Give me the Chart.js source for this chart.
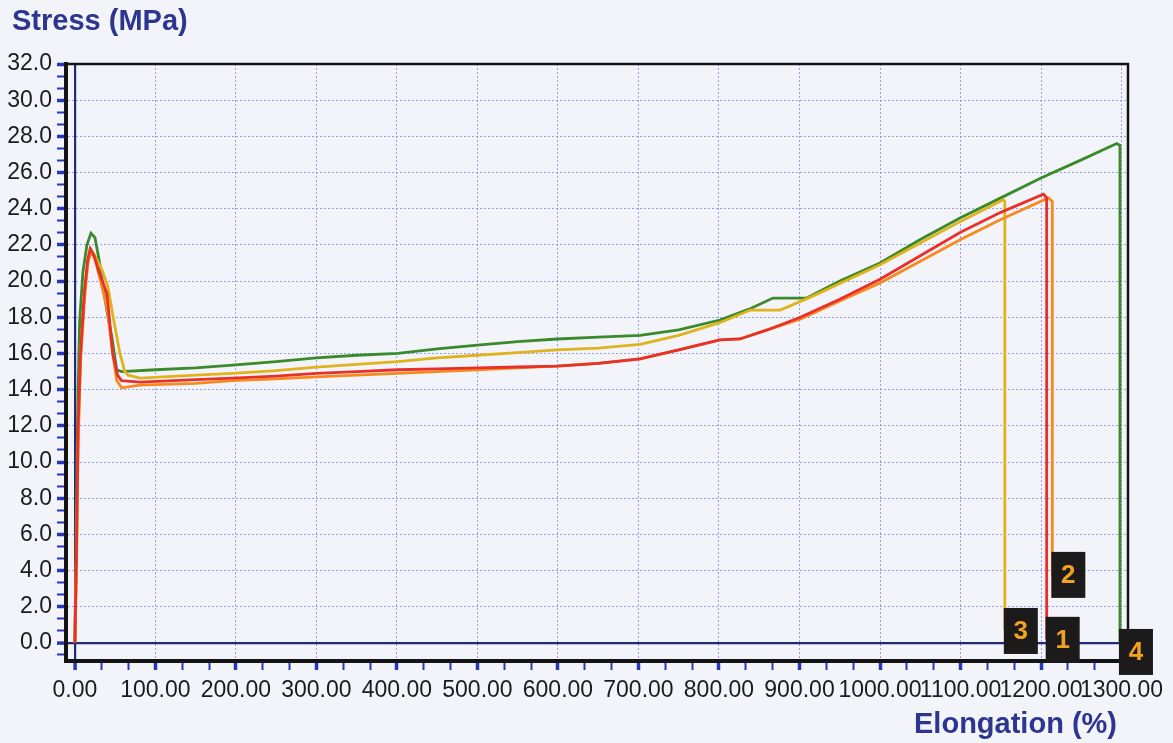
<!DOCTYPE html>
<html>
<head>
<meta charset="utf-8">
<script src="https://cdn.jsdelivr.net/npm/chart.js@4.4.1/dist/chart.umd.min.js"></script>
<style>
  html, body { margin: 0; padding: 0; background: #f3f4f9; }
  #wrap { width: 1173px; height: 743px; position: relative; }
</style>
</head>
<body>
<div id="wrap"><canvas id="c"></canvas></div>
<script>
// ---- Data (Elongation %, Stress MPa) ----
const sampleLabels = ['1', '2', '3', '4'];

const s1X = [0, 2, 4, 7, 12, 16, 19, 24, 30, 40, 47, 53, 58, 81, 150, 196, 250, 300, 350, 401, 450, 500, 550, 599, 650, 702, 750, 801, 826, 860, 901, 950, 1000, 1050, 1100, 1150, 1203, 1207, 1207];
const s1Y = [0, 5, 12, 16, 19.5, 21.2, 21.8, 21.4, 20.5, 19.3, 16.0, 14.8, 14.5, 14.42, 14.55, 14.64, 14.75, 14.9, 15.0, 15.1, 15.15, 15.2, 15.25, 15.3, 15.45, 15.7, 16.2, 16.75, 16.8, 17.3, 18.0, 19.0, 20.1, 21.4, 22.7, 23.8, 24.8, 24.6, 0.2];

const s2X = [0, 2, 4, 7, 12, 16, 20, 25, 32, 40, 47, 52, 58, 81, 150, 196, 250, 300, 350, 401, 450, 500, 550, 599, 650, 702, 750, 801, 826, 860, 901, 950, 1000, 1050, 1100, 1150, 1209, 1214, 1214];
const s2Y = [0, 4, 11, 15.5, 19, 21.0, 21.6, 21.2, 20.0, 18.5, 16.0, 14.5, 14.1, 14.25, 14.35, 14.5, 14.6, 14.7, 14.8, 14.9, 15.0, 15.1, 15.2, 15.3, 15.45, 15.7, 16.2, 16.75, 16.8, 17.3, 17.9, 18.9, 19.9, 21.1, 22.3, 23.4, 24.6, 24.4, 3.7];

const s3X = [0, 2, 4, 7, 12, 17, 21, 26, 33, 41, 48, 56, 62, 66, 81, 150, 196, 250, 300, 350, 401, 450, 500, 550, 599, 650, 702, 750, 801, 839, 876, 913, 1000, 1050, 1100, 1153, 1155, 1155];
const s3Y = [0, 5, 11, 16, 19.5, 21.2, 21.7, 21.3, 20.7, 19.7, 17.9, 16.0, 15.0, 14.8, 14.64, 14.8, 14.9, 15.05, 15.25, 15.4, 15.55, 15.75, 15.9, 16.05, 16.2, 16.3, 16.5, 17.0, 17.7, 18.4, 18.4, 19.1, 20.9, 22.1, 23.3, 24.5, 24.4, 0.7];

const s4X = [0, 2, 4, 6, 10, 15, 20, 25, 30, 35, 40, 46, 52, 58, 100, 150, 196, 250, 300, 350, 401, 450, 500, 550, 599, 650, 702, 750, 801, 840, 867, 909, 950, 1000, 1050, 1100, 1150, 1200, 1250, 1294, 1298, 1298];
const s4Y = [0, 8, 14, 17.8, 20.5, 22.0, 22.65, 22.4, 21.2, 19.7, 18.3, 16.9, 15.1, 15.0, 15.1, 15.2, 15.36, 15.55, 15.75, 15.9, 16.0, 16.25, 16.46, 16.65, 16.8, 16.9, 17.0, 17.3, 17.85, 18.5, 19.06, 19.06, 20.0, 21.0, 22.3, 23.5, 24.6, 25.7, 26.7, 27.6, 27.5, 0];

// Tick labels (major ticks)
const xMajorTicks = [0, 100, 200, 300, 400, 500, 600, 700, 800, 900, 1000, 1100, 1200, 1300];
const yMajorTicks = [0, 2, 4, 6, 8, 10, 12, 14, 16, 18, 20, 22, 24, 26, 28, 30, 32];

// Axis titles
const yTitle = 'Stress (MPa)';
const xTitle = 'Elongation (%)';

// Sample tag vertical position (MPa) for each sample number box
const tagY = [0.17, 3.76, 0.66, -0.5];

// ---- Build ticks with 3 subdivisions ----
function withMinor(major, extraBefore) {
  const out = [];
  const step = major[1] - major[0];
  if (extraBefore) out.push({ value: major[0] - step / 3, major: false });
  for (let i = 0; i < major.length; i++) {
    out.push({ value: major[i], major: true });
    if (i < major.length - 1) {
      out.push({ value: major[i] + step / 3, major: false });
      out.push({ value: major[i] + 2 * step / 3, major: false });
    }
  }
  return out;
}
const xTicks = withMinor(xMajorTicks, false);
const yTicks = withMinor(yMajorTicks, true);

function toPts(xs, ys) { return xs.map((x, i) => ({ x: x, y: ys[i] })); }

const colors = ['#e8302a', '#f68a1e', '#e0b21c', '#3a8a2c'];
const seriesX = [s1X, s2X, s3X, s4X];
const seriesY = [s1Y, s2Y, s3Y, s4Y];

const FONT = 'Liberation Sans, Arial, sans-serif';
const GRID_DOT = 'rgba(105,125,225,0.7)';
const ZERO_LINE = '#1f2a7a';
const TICK_BLUE = '#2536b8';
const TITLE_BLUE = '#2c3590';

function isMajorTick(ctx) { return ctx && ctx.tick && ctx.tick.major; }
function isZeroTick(ctx) { return ctx && ctx.tick && Math.abs(ctx.tick.value) < 1e-9; }

function gridOpts() {
  return {
    drawOnChartArea: true,
    drawTicks: true,
    tickLength: 9,
    color: (ctx) => {
      if (!ctx.tick) return 'rgba(0,0,0,0)';
      if (isZeroTick(ctx)) return ZERO_LINE;
      return ctx.tick.major ? GRID_DOT : 'rgba(0,0,0,0)';
    },
    lineWidth: (ctx) => (isZeroTick(ctx) ? 2.2 : 1),
    tickColor: TICK_BLUE,
    tickWidth: (ctx) => (isMajorTick(ctx) ? 3.5 : 2)
  };
}
function borderOpts() {
  return {
    display: true,
    color: '#141414',
    width: 4,
    dash: (ctx) => (ctx && ctx.tick && !isZeroTick(ctx) ? [2, 2] : [])
  };
}

const bgPlugin = {
  id: 'paper',
  beforeDraw(chart) {
    const { ctx, width, height } = chart;
    ctx.save();
    ctx.fillStyle = '#f3f4f9';
    ctx.fillRect(0, 0, width, height);
    ctx.restore();
  }
};

const framePlugin = {
  id: 'frame',
  beforeDatasetsDraw(chart) {
    const { ctx, chartArea: a } = chart;
    ctx.save();
    ctx.strokeStyle = '#141414';
    ctx.lineWidth = 2.5;
    ctx.beginPath();
    ctx.moveTo(a.left, a.top);
    ctx.lineTo(a.right, a.top);
    ctx.lineTo(a.right, a.bottom);
    ctx.stroke();
    ctx.restore();
  }
};

const titlesPlugin = {
  id: 'axisTitles',
  afterDraw(chart) {
    const { ctx, chartArea: a } = chart;
    ctx.save();
    ctx.fillStyle = TITLE_BLUE;
    ctx.font = 'bold 29px ' + FONT;
    ctx.textBaseline = 'middle';
    ctx.textAlign = 'left';
    ctx.fillText(yTitle, 12, 22);
    ctx.textAlign = 'right';
    ctx.fillText(xTitle, a.right - 11, 725);
    ctx.restore();
  }
};

const tagPlugin = {
  id: 'sampleTags',
  afterDraw(chart) {
    const { ctx, scales } = chart;
    ctx.save();
    chart.data.datasets.forEach((ds, i) => {
      const last = ds.data[ds.data.length - 1];
      const px = scales.x.getPixelForValue(last.x);
      const py = scales.y.getPixelForValue(tagY[i]);
      const w = 34, h = 46;
      ctx.fillStyle = '#1c1a1a';
      ctx.fillRect(px - 1, py - h / 2, w, h);
      ctx.fillStyle = '#f2a21f';
      ctx.font = 'bold 26px ' + FONT;
      ctx.textAlign = 'center';
      ctx.textBaseline = 'middle';
      ctx.fillText(sampleLabels[i], px - 1 + w / 2, py + 1);
    });
    ctx.restore();
  }
};

new Chart(document.getElementById('c'), {
  type: 'line',
  data: {
    datasets: sampleLabels.map((lab, i) => ({
      label: lab,
      data: toPts(seriesX[i], seriesY[i]),
      borderColor: colors[i],
      backgroundColor: colors[i],
      borderWidth: 2.8,
      pointRadius: 0,
      tension: 0,
      fill: false
    }))
  },
  options: {
    responsive: true,
    maintainAspectRatio: false,
    animation: false,
    devicePixelRatio: 1,
    layout: { padding: { left: 0, right: 45, top: 64, bottom: 0 } },
    plugins: {
      legend: { display: false },
      tooltip: { enabled: false },
      title: { display: false }
    },
    scales: {
      x: {
        type: 'linear',
        min: -11,
        max: 1308,
        afterBuildTicks: (s) => { s.ticks = xTicks.map(t => ({ value: t.value, major: t.major })); },
        afterFit: (s) => { s.height = 82; },
        ticks: {
          autoSkip: false,
          maxRotation: 0,
          minRotation: 0,
          padding: 7,
          color: '#1b1b1b',
          font: { family: FONT, size: 23 },
          callback: function (v, idx, ticks) { return ticks[idx].major ? Number(v).toFixed(2) : ''; }
        },
        grid: gridOpts(),
        border: borderOpts()
      },
      y: {
        type: 'linear',
        min: -1,
        max: 32,
        afterBuildTicks: (s) => { s.ticks = yTicks.map(t => ({ value: t.value, major: t.major })); },
        afterFit: (s) => { s.width = 66; },
        ticks: {
          autoSkip: false,
          padding: 5,
          color: '#1b1b1b',
          font: { family: FONT, size: 23 },
          callback: function (v, idx, ticks) { return ticks[idx].major ? Number(v).toFixed(1) : ''; }
        },
        grid: gridOpts(),
        border: borderOpts()
      }
    }
  },
  plugins: [bgPlugin, framePlugin, titlesPlugin, tagPlugin]
});
</script>
</body>
</html>
